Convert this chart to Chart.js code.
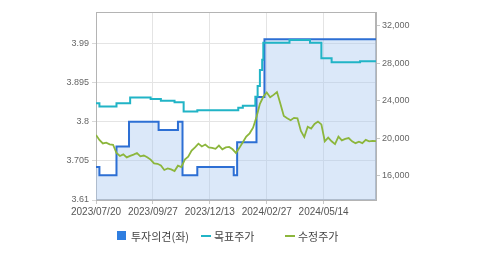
<!DOCTYPE html>
<html>
<head>
<meta charset="utf-8">
<script src="https://cdn.jsdelivr.net/npm/chart.js@4.4.1/dist/chart.umd.min.js"></script>
<style>
  html, body { margin: 0; padding: 0; background: #fff; }
  #wrap { position: relative; width: 479px; height: 254px; }
  #legend { position: absolute; left: 0; top: 0; width: 479px; height: 254px; pointer-events: none;
            font-family: "Noto Sans CJK KR", sans-serif; font-size: 11px; color: #444; }
  .lg { position: absolute; }
</style>
</head>
<body>
<div id="wrap">
  <canvas id="c" width="479" height="254"></canvas>
  <div id="legend"></div>
</div>
<script>
// series names (legend order)
const seriesNames = ["투자의견(좌)", "목표주가", "수정주가"];

// x axis: trading-day index, labelled every 50 days
const tickDays = [0, 50, 100, 150, 200];
const tickLabels = ["2023/07/20", "2023/09/27", "2023/12/13", "2024/02/27", "2024/05/14"];
const lastDay = 246;

// left axis ticks (투자의견)
const leftTicks = [3.61, 3.705, 3.8, 3.895, 3.99];
// right axis ticks (원)
const rightTicks = [16000, 20000, 24000, 28000, 32000];

// 투자의견: step changes (day index -> value)
const opinionDays   = [0, 3, 18, 29, 55, 72, 76, 89, 121, 124, 141, 148, 246];
const opinionValues = [3.69, 3.67, 3.74, 3.80, 3.78, 3.80, 3.67, 3.69, 3.67, 3.75, 3.86, 4.00, 4.00];

// 목표주가: step changes (day index -> value)
const targetDays   = [0, 3, 18, 30, 48, 57, 69, 77, 89, 125, 129, 140, 142, 144, 146, 147, 170, 188, 198, 207, 232, 246];
const targetValues = [23750, 23400, 23750, 24370, 24200, 24030, 23860, 22880, 23000, 23290, 23500, 24460, 25600, 27300, 28400, 30200, 30500, 30200, 28550, 28130, 28230, 28230];

// 수정주가: one value every 3 trading days
const priceStep = 3;
const priceValues = [
  20370, 19840, 19470, 19560, 19380, 19330, 18450, 18130, 18300, 17980,
  18150, 18280, 18450, 18100, 18180, 18000, 17750, 17350, 17300, 17120,
  16640, 16800, 16700, 16530, 17100, 16950, 17750, 18050, 18700, 19050,
  19450, 19150, 19350, 19050, 19000, 18900, 19250, 18850, 19050, 19100,
  18850, 18450, 19000, 19600, 20200, 20550, 21150, 22300, 23700, 24450,
  24900, 24400, 24650, 24950, 23700, 22400, 22150, 21950, 22200, 22150,
  20800, 20150, 21250, 21050, 21550, 21800, 21500, 19700, 20100, 19700,
  19400, 20200, 19800, 19950, 20050, 19700, 19500, 19650, 19500, 19850,
  19700, 19750, 19720
];

const opinionData = opinionDays.map((d, i) => ({ x: d, y: opinionValues[i] }));
const targetData = targetDays.map((d, i) => ({ x: d, y: targetValues[i] }));
const priceData = priceValues.map((v, i) => ({ x: i * priceStep, y: v }));

const colors = { opinion: "#2d6fd4", opinionBox: "#2f7ee0", target: "#21b4c6", price: "#8cb63c" };
const axisFont = { family: "'Liberation Sans', Arial, sans-serif", size: 10 };

const frame = {
  id: "frame",
  beforeDatasetsDraw(chart) {
    const a = chart.chartArea, ctx = chart.ctx;
    ctx.save();
    ctx.strokeStyle = "#b4b4b4";
    ctx.lineWidth = 1;
    ctx.strokeRect(a.left + 0.5, a.top + 0.5, a.width - 1, a.height - 1);
    ctx.restore();
  }
};

new Chart(document.getElementById("c"), {
  type: "line",
  data: {
    datasets: [
      { label: seriesNames[2], data: priceData, yAxisID: "yR", borderColor: colors.price,
        borderWidth: 1.8, pointRadius: 0, order: 0 },
      { label: seriesNames[1], data: targetData, yAxisID: "yR", borderColor: colors.target,
        borderWidth: 2, stepped: "before", pointRadius: 0, order: 1 },
      { label: seriesNames[0], data: opinionData, yAxisID: "yL", borderColor: colors.opinion,
        borderWidth: 2, stepped: "before", pointRadius: 0, order: 2,
        fill: "start", backgroundColor: "rgba(170,200,240,0.42)" }
    ]
  },
  options: {
    responsive: false,
    animation: false,
    layout: { padding: { top: 12, bottom: 30, left: 0, right: 0 } },
    plugins: { legend: { display: false }, tooltip: { enabled: false } },
    scales: {
      x: {
        type: "linear", min: 0, max: lastDay,
        afterBuildTicks: s => { s.ticks = tickDays.map(v => ({ value: v })); },
        afterFit: s => { s.height = 24; },
        ticks: { callback: v => tickLabels[tickDays.indexOf(v)], autoSkip: false, maxRotation: 0,
                 padding: 2, color: "#555", font: axisFont },
        grid: { color: "#e4e4e4", tickLength: 4, tickColor: "#c8c8c8" },
        border: { color: "#b4b4b4" }
      },
      yL: {
        position: "left", min: 3.61, max: 4.066,
        afterBuildTicks: s => { s.ticks = leftTicks.map(v => ({ value: v })); },
        afterFit: s => { s.width = 96; },
        ticks: { callback: v => String(+v.toFixed(3)), padding: 3, color: "#666",
                 font: { family: axisFont.family, size: 9 } },
        grid: { color: "#e4e4e4", tickLength: 4, tickColor: "#d8d8d8" },
        border: { color: "#b4b4b4" }
      },
      yR: {
        position: "right", min: 13440, max: 33490,
        afterBuildTicks: s => { s.ticks = rightTicks.map(v => ({ value: v })); },
        afterFit: s => { s.width = 103; },
        ticks: { callback: v => v.toLocaleString("en-US"), padding: 2, color: "#666",
                 font: { family: axisFont.family, size: 9 } },
        grid: { drawOnChartArea: false, tickLength: 4, tickColor: "#c8c8c8" },
        border: { color: "#b4b4b4" }
      }
    }
  },
  plugins: [frame]
});

// legend
const legendItems = [
  { kind: "box", color: colors.opinionBox, mark: 117, text: 131, name: seriesNames[0] },
  { kind: "line", color: colors.target, mark: 201, text: 214, name: seriesNames[1] },
  { kind: "line", color: colors.price, mark: 285, text: 298, name: seriesNames[2] }
];
const lg = document.getElementById("legend");
legendItems.forEach(it => {
  const m = document.createElement("div");
  m.className = "lg";
  if (it.kind === "box") {
    Object.assign(m.style, { left: it.mark + "px", top: "231px", width: "9px", height: "9px", background: it.color });
  } else {
    Object.assign(m.style, { left: it.mark + "px", top: "235px", width: "10px", height: "2px", background: it.color });
  }
  lg.appendChild(m);
  const t = document.createElement("div");
  t.className = "lg";
  Object.assign(t.style, { left: it.text + "px", top: "228px", lineHeight: "16px", whiteSpace: "nowrap" });
  t.textContent = it.name;
  lg.appendChild(t);
});
</script>
</body>
</html>
